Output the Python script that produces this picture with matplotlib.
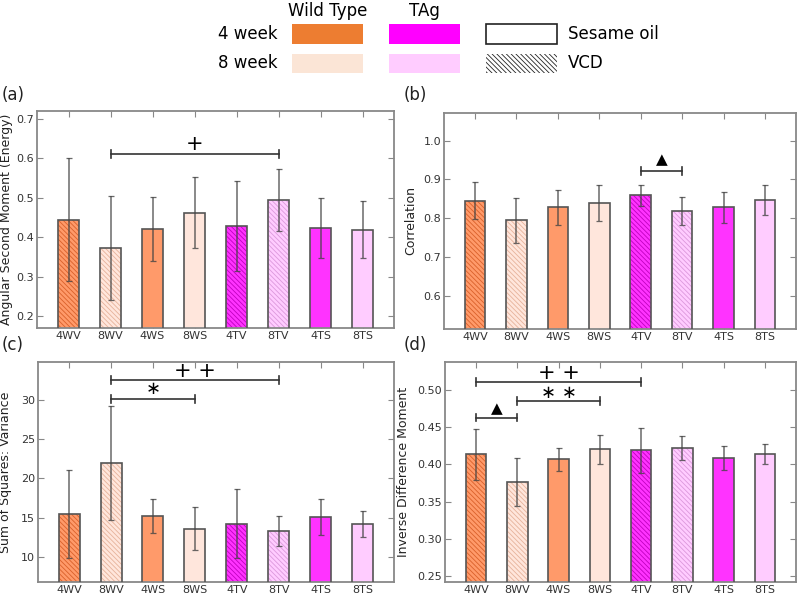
import numpy as np
import matplotlib
matplotlib.use("Agg")
import matplotlib.pyplot as plt
from matplotlib.patches import Rectangle

plt.rcParams['font.family'] = ['DejaVu Sans']
plt.rcParams['hatch.linewidth'] = 0.6

# Groups: 4/8 week, Wild type / TAg, VCD / Sesame oil
labels = ['4WV', '8WV', '4WS', '8WS', '4TV', '8TV', '4TS', '8TS']

# panel data (mean, error)
asm_mean = [0.445, 0.373, 0.421, 0.462, 0.428, 0.495, 0.423, 0.419]
asm_err = [0.156, 0.131, 0.081, 0.090, 0.114, 0.078, 0.076, 0.072]

corr_mean = [0.845, 0.795, 0.828, 0.839, 0.860, 0.818, 0.828, 0.847]
corr_err = [0.048, 0.058, 0.046, 0.047, 0.027, 0.036, 0.041, 0.038]

var_mean = [15.4, 21.95, 15.2, 13.6, 14.2, 13.3, 15.05, 14.15]
var_err = [5.6, 7.2, 2.15, 2.7, 4.4, 1.9, 2.3, 1.65]

idm_mean = [0.4134, 0.3767, 0.4067, 0.4201, 0.4187, 0.4219, 0.4085, 0.4140]
idm_err = [0.0347, 0.0320, 0.0152, 0.0200, 0.0300, 0.0160, 0.0160, 0.0132]

# significance brackets: (start index, end index, line y, text y, symbol)
asm_sig = [(1, 5, 0.612, 0.636, '+')]
corr_sig = [(4, 5, 0.922, 0.950, '▲')]
var_sig = [(1, 5, 32.55, 33.6, '+ +'), (1, 3, 30.08, 31.3, '∗')]
idm_sig = [(0, 4, 0.5103, 0.5224, '+ +'), (1, 3, 0.4857, 0.4955, '∗ ∗'),
           (0, 1, 0.4629, 0.4750, '▲')]

# styling per bar
face_colors = ['#FF9A6A', '#FFE6DC', '#FF9A6A', '#FFE6DC',
               '#FF33FF', '#FFCCFF', '#FF33FF', '#FFCCFF']
hatch_colors = ['#D9602A', '#E6B29A', None, None,
                '#C000C0', '#DC98DC', None, None]
HATCH = '\\' * 7

W, H = 800, 596


def px_axes(fig, left, top, right, bottom):
    return fig.add_axes([left / W, 1 - bottom / H, (right - left) / W, (bottom - top) / H])


def draw_panel(ax, means, errs, ylim, yticks, ylabel, sigs, fmt, label_x):
    x = np.arange(len(labels))
    for i in range(len(labels)):
        if hatch_colors[i]:
            ax.bar(x[i], means[i], 0.5, color=face_colors[i], edgecolor=hatch_colors[i],
                   hatch=HATCH, linewidth=0, zorder=2)
        else:
            ax.bar(x[i], means[i], 0.5, color=face_colors[i], linewidth=0, zorder=2)
    ax.bar(x, means, 0.5, facecolor='none', edgecolor='#555555', linewidth=1.2, zorder=3)
    ax.errorbar(x, means, yerr=errs, fmt='none', ecolor='#444444', alpha=0.8,
                elinewidth=1.1, capsize=2, capthick=0.9, zorder=4)
    dy = (ylim[1] - ylim[0]) * 0.018
    for i0, i1, yl, yt, sym in sigs:
        ax.plot([x[i0], x[i1]], [yl, yl], color='#333333', lw=1.2, zorder=5)
        for xi in (x[i0], x[i1]):
            ax.plot([xi, xi], [yl - dy, yl + dy], color='#333333', lw=1.2, zorder=5)
        if sym == '▲':
            fs = 11
        elif '∗' in sym:
            fs = 13
        else:
            fs = 15
        ax.text((x[i0] + x[i1]) / 2, yt, sym, ha='center', va='center', fontsize=fs, zorder=6)
    ax.set_xlim(-0.75, 7.75)
    ax.set_ylim(*ylim)
    ax.set_xticks(x)
    ax.set_xticklabels(labels)
    ax.set_yticks(yticks)
    ax.set_yticklabels([fmt.format(v) for v in yticks])
    ax.set_ylabel(ylabel, fontsize=9, color='#222222')
    ax.yaxis.set_label_coords(label_x, 0.5)
    ax.tick_params(direction='in', top=True, right=True, length=4, width=0.8,
                   color='#888888', labelsize=8, labelcolor='#333333', pad=2)
    for s in ax.spines.values():
        s.set_color('#888888')
        s.set_linewidth(1.3)


fig = plt.figure(figsize=(8, 5.96), dpi=100)

ax_a = px_axes(fig, 37, 111, 394, 328)
draw_panel(ax_a, asm_mean, asm_err, (0.17, 0.72), [0.2, 0.3, 0.4, 0.5, 0.6, 0.7],
           'Angular Second Moment (Energy)', asm_sig, '{:.1f}', -0.066)
ax_b = px_axes(fig, 444, 112.7, 796, 329)
draw_panel(ax_b, corr_mean, corr_err, (0.515, 1.072), [0.6, 0.7, 0.8, 0.9, 1.0],
           'Correlation', corr_sig, '{:.1f}', -0.077)
ax_c = px_axes(fig, 37.7, 362, 394, 582)
draw_panel(ax_c, var_mean, var_err, (6.8, 34.8), [10, 15, 20, 25, 30],
           'Sum of Squares: Variance', var_sig, '{:.0f}', -0.072)
ax_d = px_axes(fig, 445, 362, 796, 582)
draw_panel(ax_d, idm_mean, idm_err, (0.242, 0.5375), [0.25, 0.30, 0.35, 0.40, 0.45, 0.50],
           'Inverse Difference Moment', idm_sig, '{:.2f}', -0.10)

for lab, px, py in [('(a)', 2, 95), ('(b)', 404, 95), ('(c)', 2, 345), ('(d)', 404, 345)]:
    fig.text(px / W, 1 - py / H, lab, fontsize=12, ha='left', va='center', color='#222222')


# legend block at the top
def fig_rect(x0, y0, x1, y1, **kw):
    fig.patches.append(Rectangle((x0 / W, 1 - y1 / H), (x1 - x0) / W, (y1 - y0) / H,
                                 transform=fig.transFigure, figure=fig, **kw))


legend_colors = [['#ED7D31', '#FF00FF'], ['#FBE5D6', '#FFCCFF']]
row_y = [(24, 44), (54, 73)]
col_x = [(292, 363), (389, 460)]
for r, (y0, y1) in enumerate(row_y):
    for c, (x0, x1) in enumerate(col_x):
        fig_rect(x0, y0, x1, y1, facecolor=legend_colors[r][c], edgecolor='none')
fig_rect(486, 24, 557, 44, facecolor='white', edgecolor='#222222', linewidth=1.2)
fig_rect(486, 54, 557, 73, facecolor='white', edgecolor='#222222', hatch='\\' * 7, linewidth=0)

fs_leg = 12
fig.text(328 / W, 1 - 11 / H, 'Wild Type', ha='center', va='center', fontsize=fs_leg)
fig.text(424 / W, 1 - 11 / H, 'TAg', ha='center', va='center', fontsize=fs_leg)
fig.text(278 / W, 1 - 34 / H, '4 week', ha='right', va='center', fontsize=fs_leg)
fig.text(278 / W, 1 - 63 / H, '8 week', ha='right', va='center', fontsize=fs_leg)
fig.text(568 / W, 1 - 34 / H, 'Sesame oil', ha='left', va='center', fontsize=fs_leg)
fig.text(568 / W, 1 - 63 / H, 'VCD', ha='left', va='center', fontsize=fs_leg)

fig.savefig('out.png', dpi=100)
